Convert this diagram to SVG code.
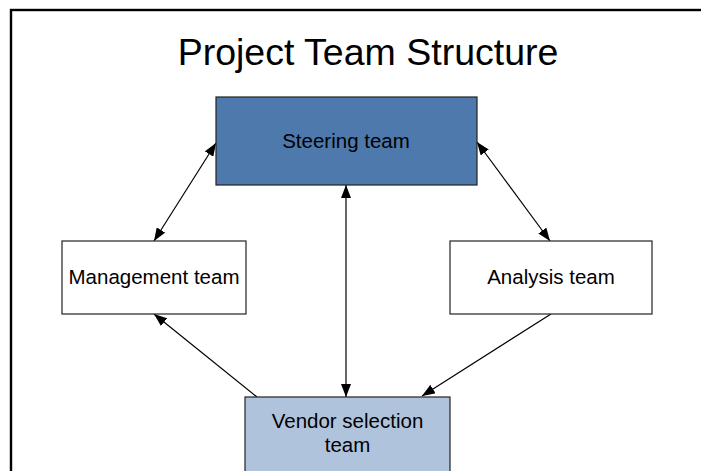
<svg xmlns="http://www.w3.org/2000/svg" width="701" height="471" viewBox="0 0 701 471">
  <style>
    .label { font-family: "Liberation Sans", Arial, sans-serif; font-size: 20.5px; fill: #000; text-anchor: middle; }
    .title { font-family: "Liberation Sans", Arial, sans-serif; font-size: 37.5px; fill: #000; text-anchor: middle; }
    .box { stroke: #222; stroke-width: 1.2; }
    .link { stroke: #000; stroke-width: 1.2; fill: none; }
  </style>
  <defs>
    <marker id="arrow" viewBox="0 0 13 10" refX="13" refY="5" markerWidth="13" markerHeight="10" markerUnits="userSpaceOnUse" orient="auto-start-reverse">
      <path d="M0,0 L13,5 L0,10 z" fill="#000"/>
    </marker>
  </defs>

  <rect width="701" height="471" fill="#fff"/>
  <!-- slide frame -->
  <rect x="11" y="10" width="720" height="480" fill="none" stroke="#000" stroke-width="2.4"/>

  <text class="title" x="368" y="65">Project Team Structure</text>

  <g id="connectors">
    <line class="link" x1="216" y1="143" x2="154" y2="241" marker-start="url(#arrow)" marker-end="url(#arrow)"/>
    <line class="link" x1="477" y1="142" x2="550" y2="241" marker-start="url(#arrow)" marker-end="url(#arrow)"/>
    <line class="link" x1="346" y1="185" x2="346" y2="397" marker-start="url(#arrow)" marker-end="url(#arrow)"/>
    <line class="link" x1="257" y1="397" x2="154" y2="314" marker-end="url(#arrow)"/>
    <line class="link" x1="551" y1="314" x2="422" y2="396" marker-end="url(#arrow)"/>
  </g>

  <g id="steering">
    <rect class="box" x="216" y="97" width="261" height="88" fill="#4E79AD" stroke="#1d3350"/>
    <text class="label" x="346" y="148">Steering team</text>
  </g>

  <g id="management">
    <rect class="box" x="62" y="241" width="184" height="73" fill="#fff"/>
    <text class="label" x="154" y="284">Management team</text>
  </g>

  <g id="analysis">
    <rect class="box" x="450" y="241" width="202" height="73" fill="#fff"/>
    <text class="label" x="551" y="284">Analysis team</text>
  </g>

  <g id="vendor">
    <rect class="box" x="245" y="397" width="205" height="90" fill="#B0C3DC" stroke="#333"/>
    <text class="label" x="347.5" y="428">Vendor selection</text>
    <text class="label" x="347.5" y="452">team</text>
  </g>
</svg>
